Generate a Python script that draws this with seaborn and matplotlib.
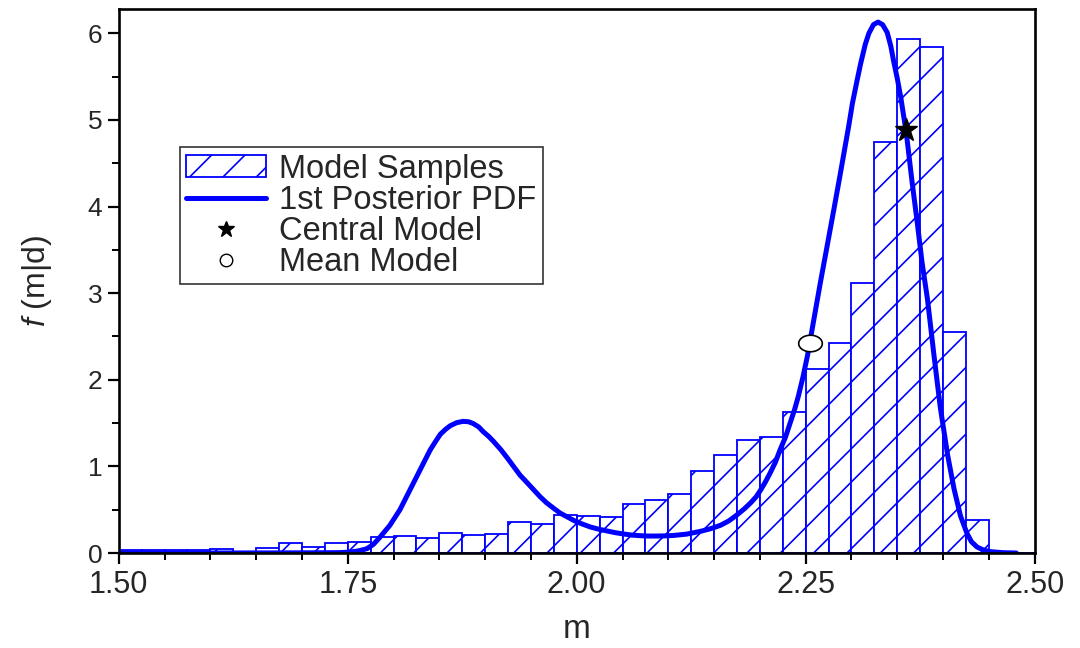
import numpy as np
import matplotlib
matplotlib.use("Agg")
import matplotlib.pyplot as plt
from matplotlib.patches import Patch
from matplotlib.lines import Line2D
from matplotlib.path import Path
import seaborn as sns

# ---- data ----
bin_edges = [1.500 + 0.025 * i for i in range(41)]
bar_heights = [0.03, 0.03, 0.04, 0.04, 0.05, 0.015, 0.06, 0.12, 0.07, 0.12,
               0.13, 0.18, 0.20, 0.17, 0.23, 0.205, 0.22, 0.36, 0.33, 0.44,
               0.43, 0.42, 0.56, 0.61, 0.68, 0.95, 1.13, 1.30, 1.34, 1.63,
               2.13, 2.43, 3.12, 4.75, 5.93, 5.84, 2.55, 0.38, 0.0, 0.0]

pdf_m = [1.500, 1.600, 1.700, 1.740, 1.752, 1.762, 1.771, 1.778, 1.785, 1.796,
         1.807, 1.818, 1.829, 1.840, 1.846, 1.851, 1.857, 1.862, 1.869, 1.876,
         1.882, 1.887, 1.893, 1.898, 1.904, 1.909, 1.917, 1.924, 1.931, 1.938,
         1.946, 1.953, 1.960, 1.967, 1.975, 1.982, 1.990, 1.997, 2.006, 2.015,
         2.024, 2.033, 2.042, 2.051, 2.060, 2.069, 2.078, 2.088, 2.097, 2.106,
         2.120, 2.135, 2.146, 2.157, 2.166, 2.175, 2.183, 2.190, 2.196, 2.201,
         2.206, 2.211, 2.217, 2.222, 2.228, 2.233, 2.238, 2.242, 2.247, 2.252,
         2.259, 2.266, 2.273, 2.281, 2.287, 2.292, 2.297, 2.301, 2.306, 2.310,
         2.315, 2.319, 2.324, 2.329, 2.334, 2.339, 2.343, 2.346, 2.350, 2.354,
         2.360, 2.366, 2.372, 2.377, 2.383, 2.390, 2.397, 2.405, 2.412, 2.419,
         2.426, 2.431, 2.437, 2.444, 2.452, 2.465, 2.480]
pdf_f = [0.0, 0.0, 0.002, 0.004, 0.01, 0.025, 0.05, 0.10, 0.18, 0.32,
         0.50, 0.73, 0.96, 1.19, 1.29, 1.37, 1.43, 1.47, 1.505, 1.52,
         1.515, 1.495, 1.455, 1.40, 1.345, 1.29, 1.195, 1.10, 1.00, 0.90,
         0.81, 0.73, 0.65, 0.58, 0.515, 0.46, 0.415, 0.375, 0.335, 0.30,
         0.275, 0.255, 0.235, 0.22, 0.207, 0.20, 0.196, 0.196, 0.198, 0.203,
         0.218, 0.25, 0.28, 0.32, 0.37, 0.44, 0.51, 0.58, 0.65, 0.73,
         0.82, 0.92, 1.05, 1.19, 1.34, 1.50, 1.66, 1.81, 2.03, 2.28,
         2.70, 3.12, 3.52, 3.98, 4.33, 4.63, 4.93, 5.19, 5.45, 5.65,
         5.87, 6.00, 6.10, 6.13, 6.10, 6.01, 5.85, 5.68, 5.48, 5.25,
         4.84, 4.30, 3.80, 3.36, 2.93, 2.29, 1.68, 1.13, 0.74, 0.43,
         0.23, 0.13, 0.07, 0.035, 0.015, 0.004, 0.0]

central_m, central_f = [2.359], [4.88]
mean_m, mean_f = [2.2545], [2.43]

legend_labels = ["Model Samples", "1st Posterior PDF", "Central Model", "Mean Model"]
x_ticks = [1.50, 1.75, 2.00, 2.25, 2.50]
y_ticks = [0, 1, 2, 3, 4, 5, 6]

# ---- style ----
sns.set_style("ticks")
plt.rcParams["font.family"] = ["Liberation Sans", "DejaVu Sans"]
plt.rcParams["mathtext.fontset"] = "custom"
plt.rcParams["mathtext.rm"] = "Liberation Sans"
plt.rcParams["mathtext.it"] = "Liberation Sans:italic"
plt.rcParams["hatch.linewidth"] = 1.2

fig = plt.figure(figsize=(10.8, 6.48), dpi=100)
ax = fig.add_axes([0.110, 0.1466, 0.848, 0.8394])

centers = [(bin_edges[i] + bin_edges[i + 1]) / 2 for i in range(len(bar_heights))]
sns.histplot(x=centers, weights=bar_heights, bins=bin_edges, stat="count",
             element="bars", fill=True, facecolor="white", edgecolor="#0000ff",
             hatch="/", linewidth=1.3, ax=ax)
for p in ax.patches:
    p.set_facecolor("white")
    p.set_edgecolor("#0000ff")
    p.set_alpha(None)

sns.lineplot(x=pdf_m, y=pdf_f, color="#0000ff", linewidth=3.6, sort=False,
             estimator=None, ax=ax)

ax.plot(central_m, central_f, linestyle="none", marker="*", markersize=17,
        color="black", zorder=5)
t = np.linspace(0, 2 * np.pi, 60)
ellipse = Path(np.column_stack([np.cos(t), 0.7 * np.sin(t)]))
ax.plot(mean_m, mean_f, linestyle="none", marker=ellipse, markersize=17,
        markerfacecolor="white", markeredgecolor="black", markeredgewidth=1.2,
        zorder=5)

ax.set_xlim(1.5, 2.5)
ax.set_ylim(0, 6.28)
ax.set_xticks(x_ticks)
ax.set_xticklabels([f"{v:.2f}" for v in x_ticks])
ax.set_yticks(y_ticks)
ax.set_xticks(np.arange(1.5, 2.5001, 0.05), minor=True)
ax.set_yticks(np.arange(0, 6.01, 0.5), minor=True)
ax.tick_params(axis="both", which="major", direction="out", length=8, width=1.6,
               pad=4, color="black")
ax.tick_params(axis="x", which="major", labelsize=22, pad=4)
ax.tick_params(axis="y", which="major", labelsize=19, pad=4)
ax.tick_params(axis="both", which="minor", direction="out", length=5, width=1.4,
               color="black")
for s in ax.spines.values():
    s.set_visible(True)
    s.set_linewidth(1.9)
    s.set_color("black")

ax.set_xlabel("m", fontsize=24, labelpad=10)
ax.set_ylabel(r"$f$ (m|d)", fontsize=23, labelpad=24)

handles = [
    Patch(facecolor="white", edgecolor="#0000ff", hatch="/", linewidth=1.3),
    Line2D([], [], color="#0000ff", linewidth=3.6),
    Line2D([], [], linestyle="none", marker="*", markersize=12, color="black"),
    Line2D([], [], linestyle="none", marker="o", markersize=9,
           markerfacecolor="white", markeredgecolor="black", markeredgewidth=1.0),
]
leg = ax.legend(handles, legend_labels, loc="upper left",
                bbox_to_anchor=(0.0666, 0.746), borderaxespad=0, fontsize=23.5,
                frameon=True, fancybox=False, handlelength=2.45, handleheight=0.65,
                labelspacing=0.0, handletextpad=0.4, borderpad=0.2)
leg.get_frame().set_edgecolor("black")
leg.get_frame().set_linewidth(1.2)

fig.savefig("out.png", dpi=100)
